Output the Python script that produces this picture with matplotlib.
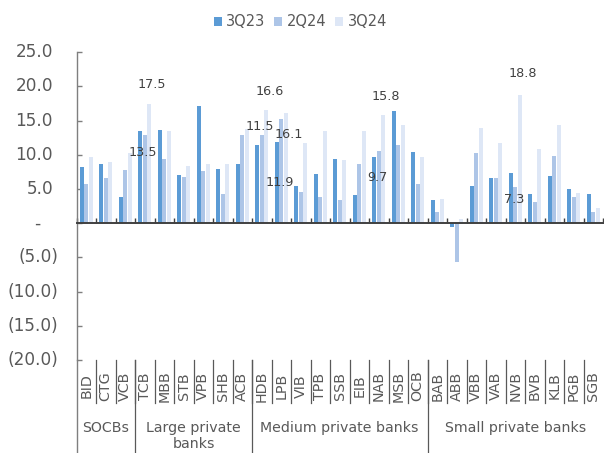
import matplotlib
matplotlib.use("Agg")
import matplotlib.pyplot as plt
from matplotlib.lines import Line2D
from matplotlib.patches import Patch
import numpy as np

plt.rcParams['font.family'] = ['DejaVu Sans']

categories = ["BID", "CTG", "VCB", "TCB", "MBB", "STB", "VPB", "SHB", "ACB",
              "HDB", "LPB", "VIB", "TPB", "SSB", "EIB", "NAB", "MSB", "OCB",
              "BAB", "ABB", "VBB", "VAB", "NVB", "BVB", "KLB", "PGB", "SGB"]
groups = ["SOCBs", "Large private\nbanks", "Medium private banks", "Small private banks"]
group_sizes = [3, 6, 9, 9]
series_names = ["3Q23", "2Q24", "3Q24"]

q3_23 = [8.2, 8.7, 3.8, 13.5, 13.7, 7.0, 17.2, 7.9, 8.7,
         11.5, 11.9, 5.4, 7.2, 9.4, 4.2, 9.7, 16.4, 10.4,
         3.4, -0.5, 5.5, 6.6, 7.3, 4.3, 6.9, 5.0, 4.3]
q2_24 = [5.8, 6.6, 7.8, 12.9, 9.4, 6.8, 7.7, 4.3, 12.9,
         12.9, 15.3, 4.6, 3.8, 3.4, 8.6, 10.6, 11.4, 5.7,
         1.6, -5.7, 10.2, 6.6, 5.3, 3.1, 9.9, 3.9, 1.7]
q3_24 = [9.7, 9.0, 10.2, 17.5, 13.5, 8.3, 8.7, 8.7, 13.8,
         16.6, 16.1, 11.7, 13.5, 9.3, 13.5, 15.8, 14.3, 9.7,
         3.5, 0.6, 13.9, 11.7, 18.8, 10.9, 14.3, 4.4, 2.2]

yticks = [25, 20, 15, 10, 5, 0, -5, -10, -15, -20]

# labelled bars: (category, series index, vertical offset in px; negative = above)
labelled = [("TCB", 0, 22), ("TCB", 2, -19), ("HDB", 0, -18), ("HDB", 2, -18),
            ("LPB", 0, 41), ("LPB", 2, 21), ("NAB", 0, 21), ("NAB", 2, -19),
            ("NVB", 0, 26), ("NVB", 2, -21)]

colors = ["#5B9BD5", "#ADC5E7", "#DEE7F6"]
text_color = "#595959"
PX = 0.72  # points per pixel at 100 dpi

W, H = 604, 453
fig = plt.figure(figsize=(W / 100, H / 100), dpi=100)
ax_l, ax_t, ax_r, ax_b = 76.5, 52.3, 603, 360
ax = fig.add_axes([ax_l / W, 1 - ax_b / H, (ax_r - ax_l) / W, (ax_b - ax_t) / H])
ax_h = ax_b - ax_t

x = np.arange(len(categories))
series = [q3_23, q2_24, q3_24]
bw, step = 0.205, 0.228
for k, vals in enumerate(series):
    ax.bar(x + (k - 1) * step, vals, width=bw, color=colors[k], zorder=2, linewidth=0)

ax.set_xlim(-0.5, len(categories) - 0.5)
ax.set_ylim(-20, 25)

# spines
for s in ["top", "right"]:
    ax.spines[s].set_visible(False)
ax.spines["left"].set_color("#7f7f7f")
ax.spines["left"].set_linewidth(1.0)
ax.spines["bottom"].set_position(("data", 0))
ax.spines["bottom"].set_color("#404040")
ax.spines["bottom"].set_linewidth(1.4)
ax.spines["bottom"].set_zorder(3)

ax.set_xticks(np.arange(len(categories) + 1) - 0.5)
ax.tick_params(axis="x", direction="in", length=5 * PX, width=1.0, color="#404040",
               labelbottom=False)
ax.set_yticks(yticks)
ax.tick_params(axis="y", direction="in", length=5 * PX, width=1.0, color="#7f7f7f",
               labelleft=False)

ytrans = ax.get_yaxis_transform()
for v in yticks:
    if v > 0:
        s, dx, ha = f"{v:.1f}", -23.5, "right"
    elif v < 0:
        s, dx, ha = f"({abs(v):.1f})", -18.5, "right"
    else:
        s, dx, ha = "-", -39.5, "center"
    ax.annotate(s, xy=(0, v), xycoords=ytrans, xytext=(dx * PX, 0),
                textcoords="offset points", ha=ha, va="center",
                fontsize=12.2, color=text_color, annotation_clip=False)

# data labels
for cat, k, dy in labelled:
    i = categories.index(cat)
    v = series[k][i]
    ax.annotate(f"{v:.1f}", xy=(i + (k - 1) * step, v), xytext=(3 * PX, -dy * PX),
                textcoords="offset points", ha="center", va="center",
                fontsize=9.2, color="#404040", zorder=5)

# category labels and dividers
xtrans = ax.get_xaxis_transform()
cat_y = -(386 - ax_b) / ax_h
div_y = -(403 - ax_b) / ax_h
grp_div_y = -(H + 2 - ax_b) / ax_h
for i, c in enumerate(categories):
    ax.text(i, cat_y, c, transform=xtrans, rotation=90, ha="center", va="center",
            fontsize=10.3, color=text_color)
for b in range(1, len(categories)):
    ax.add_line(Line2D([b - 0.5, b - 0.5], [0, div_y], transform=xtrans,
                       color="#595959", lw=0.9, clip_on=False))
ax.add_line(Line2D([-0.5, -0.5], [0, grp_div_y], transform=xtrans,
                   color="#7f7f7f", lw=1.0, clip_on=False))

start = 0
grp_y = -(421 - ax_b) / ax_h
for g, n in zip(groups, group_sizes):
    center = start + (n - 1) / 2
    ax.text(center, grp_y, g, transform=xtrans, ha="center", va="top",
            fontsize=10.2, color=text_color, linespacing=1.15)
    if start > 0:
        ax.add_line(Line2D([start - 0.5, start - 0.5], [0, grp_div_y], transform=xtrans,
                           color="#595959", lw=0.9, clip_on=False))
    start += n

handles = [Patch(facecolor=c, edgecolor="none") for c in colors]
fig.legend(handles, series_names, loc="center", bbox_to_anchor=(300.5 / W, 1 - 22 / H),
           ncol=3, frameon=False, fontsize=10.5, handlelength=0.55, handleheight=0.55,
           handletextpad=0.3, columnspacing=0.6, labelcolor=text_color)

fig.savefig("out.png", dpi=100)
